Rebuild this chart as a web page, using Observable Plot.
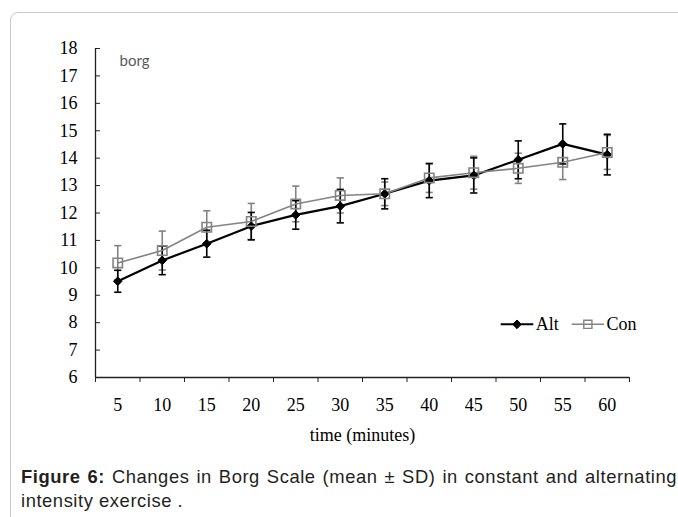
<!DOCTYPE html>
<html>
<head>
<meta charset="utf-8">
<script src="https://cdn.jsdelivr.net/npm/d3@7"></script>
<script src="https://cdn.jsdelivr.net/npm/@observablehq/plot@0.6"></script>
<style>
  html, body { margin: 0; padding: 0; background: #fff; }
  #wrap { position: relative; width: 678px; height: 517px; overflow: hidden; background: #fff; }
  #frame { position: absolute; left: 10px; top: 12px; width: 700px; height: 620px; border: 1.5px solid #c8c8c8; border-radius: 8px; box-sizing: border-box; }
  #chart { position: absolute; left: 0; top: 0; }
  #legend { position: absolute; left: 498px; top: 312px; }
  .cap { position: absolute; left: 21px; width: 656px; font-family: "Liberation Sans", Arial, sans-serif; font-size: 18.4px; letter-spacing: 0.55px; line-height: 24px; color: #231f20; }
  #cap1 { top: 465px; text-align: justify; text-align-last: justify; }
  #cap2 { top: 489px; text-align: left; }
</style>
</head>
<body>
<div id="wrap">
  <div id="frame"></div>
  <div id="chart"></div>
  <div id="legend"></div>
  <div class="cap" id="cap1"><b>Figure 6:</b> Changes in Borg Scale (mean ± SD) in constant and alternating</div>
  <div class="cap" id="cap2">intensity exercise .</div>
</div>
<script>
// ---- data ----
const time = [5, 10, 15, 20, 25, 30, 35, 40, 45, 50, 55, 60];
const altMean = [9.51, 10.27, 10.88, 11.52, 11.93, 12.25, 12.70, 13.18, 13.37, 13.94, 14.52, 14.13];
const altSD   = [0.40, 0.52, 0.49, 0.50, 0.52, 0.61, 0.55, 0.62, 0.64, 0.69, 0.73, 0.74];
const conMean = [10.18, 10.63, 11.48, 11.69, 12.33, 12.64, 12.70, 13.28, 13.47, 13.63, 13.85, 14.21];
const conSD   = [0.63, 0.71, 0.60, 0.66, 0.65, 0.64, 0.43, 0.53, 0.60, 0.55, 0.63, 0.62];
const yTicks = [6, 7, 8, 9, 10, 11, 12, 13, 14, 15, 16, 17, 18];
const seriesNames = ["Alt", "Con"];
const xTitle = "time (minutes)";
const yTitle = "borg";

const rows = time.map((t, i) => ({
  time: t,
  alt: altMean[i], altSD: altSD[i],
  con: conMean[i], conSD: conSD[i]
}));

const step = time[1] - time[0];
const xDomain = [time[0] - step / 2, time[time.length - 1] + step / 2];
const boundaries = [xDomain[0], ...time.map(t => t + step / 2)];

const ALT = "#000000";
const CON = "#838383";

const capSymbol = {
  draw(ctx, size) {
    const w = Math.sqrt(size / Math.PI);
    ctx.moveTo(-w, 0);
    ctx.lineTo(w, 0);
  }
};

const chart = Plot.plot({
  width: 678,
  height: 462,
  marginLeft: 95,
  marginRight: 49,
  marginTop: 48,
  marginBottom: 85,
  x: { type: "linear", domain: xDomain },
  y: { domain: [yTicks[0], yTicks[yTicks.length - 1]] },
  style: {
    fontFamily: "'Liberation Serif', 'Times New Roman', serif",
    fontSize: "18px",
    color: "#000",
    background: "transparent",
    overflow: "visible"
  },
  marks: [
    Plot.axisX(time, { tickSize: 0, tickPadding: 21, label: null, fontSize: 18 }),
    Plot.axisX(boundaries, { tickSize: 5, tickFormat: () => "", label: null, stroke: "#222" }),
    Plot.axisY(yTicks, { tickSize: 0, tickPadding: 18, label: null, fontSize: 18 }),
    Plot.axisY(yTicks, { tickSize: -5, tickFormat: () => "", label: null, stroke: "#222" }),
    Plot.ruleX([xDomain[0]], { stroke: "#222", strokeWidth: 1.3 }),
    Plot.ruleY([yTicks[0]], { stroke: "#222", strokeWidth: 1.3 }),
    Plot.text([xTitle], { frameAnchor: "bottom", dy: 63, fontSize: 18 }),
    Plot.text([yTitle], { frameAnchor: "top-left", dx: 24, dy: 7, textAnchor: "start", fontFamily: "Lato, 'Open Sans', sans-serif", fontSize: 15, fill: "#595959" }),

    // Con error bars
    Plot.ruleX(rows, { x: "time", y1: d => d.con - d.conSD, y2: d => d.con + d.conSD, stroke: CON, strokeWidth: 1.6 }),
    Plot.dot(rows, { x: "time", y: d => d.con + d.conSD, symbol: capSymbol, r: 3.6, stroke: CON, fill: "none", strokeWidth: 1.6 }),
    Plot.dot(rows, { x: "time", y: d => d.con - d.conSD, symbol: capSymbol, r: 3.6, stroke: CON, fill: "none", strokeWidth: 1.6 }),
    // Alt error bars
    Plot.ruleX(rows, { x: "time", y1: d => d.alt - d.altSD, y2: d => d.alt + d.altSD, stroke: ALT, strokeWidth: 1.6 }),
    Plot.dot(rows, { x: "time", y: d => d.alt + d.altSD, symbol: capSymbol, r: 3.6, stroke: ALT, fill: "none", strokeWidth: 1.6 }),
    Plot.dot(rows, { x: "time", y: d => d.alt - d.altSD, symbol: capSymbol, r: 3.6, stroke: ALT, fill: "none", strokeWidth: 1.6 }),

    // lines
    Plot.line(rows, { x: "time", y: "alt", stroke: ALT, strokeWidth: 2.2 }),
    Plot.line(rows, { x: "time", y: "con", stroke: CON, strokeWidth: 1.6 }),

    // markers
    Plot.dot(rows, { x: "time", y: "alt", symbol: "diamond2", r: 3.9, fill: ALT, stroke: ALT, strokeWidth: 1 }),
    Plot.dot(rows, { x: "time", y: "con", symbol: "square", r: 5.3, fill: "none", stroke: CON, strokeWidth: 1.6 })
  ]
});
document.getElementById("chart").appendChild(chart);

// ---- legend ----
const lg = d3.select("#legend").append("svg").attr("width", 160).attr("height", 26)
  .style("font-family", "'Liberation Serif', 'Times New Roman', serif").style("font-size", "18px");
const items = [
  { name: seriesNames[0], color: ALT, x0: 2.7, w: 32.6, sw: 2, sym: d3.symbolDiamond2, size: Math.PI * 3.9 * 3.9, fill: ALT },
  { name: seriesNames[1], color: CON, x0: 73.7, w: 32.3, sw: 1.6, sym: d3.symbolSquare, size: Math.PI * 4.6 * 4.6, fill: "none" }
];
for (const it of items) {
  const cy = 12.3;
  lg.append("line").attr("x1", it.x0).attr("x2", it.x0 + it.w).attr("y1", cy).attr("y2", cy)
    .attr("stroke", it.color).attr("stroke-width", it.sw);
  lg.append("path").attr("d", d3.symbol(it.sym, it.size)())
    .attr("transform", `translate(${it.x0 + it.w / 2},${cy})`)
    .attr("fill", it.fill).attr("stroke", it.color).attr("stroke-width", it.fill === "none" ? 1.4 : 1);
  lg.append("text").attr("x", it.x0 + it.w + 2.5).attr("y", cy + 6).attr("fill", "#000").text(it.name);
}
</script>
</body>
</html>
